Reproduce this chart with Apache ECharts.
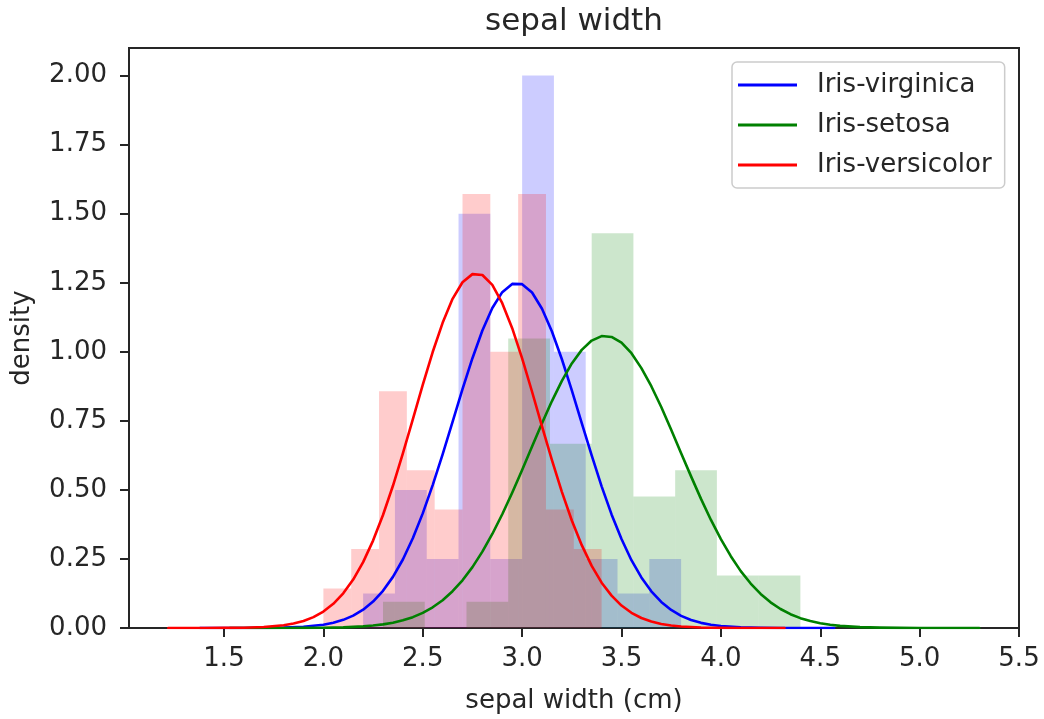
<!DOCTYPE html>
<html>
<head>
<meta charset="utf-8">
<script src="https://cdn.jsdelivr.net/npm/echarts@6/dist/echarts.min.js"></script>
<style>
  html, body { margin: 0; padding: 0; background: #fff; }
  #chart { width: 1044px; height: 719px; }
</style>
</head>
<body>
<div id="chart"></div>
<script>
// ---- data ----
const speciesNames = ['Iris-virginica', 'Iris-setosa', 'Iris-versicolor'];
const speciesColors = ['#0000ff', '#008000', '#ff0000'];
const histFills = ['rgba(0,0,255,0.2)', 'rgba(0,128,0,0.2)', 'rgba(255,0,0,0.2)'];

// histogram bin edges and densities
const virginicaEdges = [2.2, 2.36, 2.52, 2.68, 2.84, 3.0, 3.16, 3.32, 3.48, 3.64, 3.8];
const virginicaDensity = [0.125, 0.5, 0.25, 1.5, 0.25, 2.0, 1.0, 0.25, 0.125, 0.25];
const setosaEdges = [2.3, 2.51, 2.72, 2.93, 3.14, 3.35, 3.56, 3.77, 3.98, 4.19, 4.4];
const setosaDensity = [0.095, 0, 0.095, 1.048, 0.667, 1.429, 0.476, 0.571, 0.190, 0.190];
const versicolorEdges = [2.0, 2.14, 2.28, 2.42, 2.56, 2.7, 2.84, 2.98, 3.12, 3.26, 3.4];
const versicolorDensity = [0.143, 0.286, 0.857, 0.571, 0.429, 1.571, 1.0, 1.571, 0.429, 0.286];

// fitted density curves (x, density)
const virginicaCurve = [
  [1.38, 0], [1.5, 0.00003], [1.6, 0.0001], [1.7, 0.0004], [1.8, 0.0014], [1.9, 0.0044],
  [2.0, 0.0119], [2.05, 0.019], [2.1, 0.0295], [2.15, 0.0447], [2.2, 0.0662], [2.25, 0.0956],
  [2.3, 0.1347], [2.35, 0.1851], [2.4, 0.248], [2.45, 0.325], [2.5, 0.415], [2.55, 0.5174],
  [2.6, 0.629], [2.65, 0.7466], [2.7, 0.865], [2.75, 0.9768], [2.8, 1.077], [2.85, 1.1587],
  [2.9, 1.216], [2.95, 1.2459], [3.0, 1.245], [3.05, 1.2146], [3.1, 1.156], [3.15, 1.0734],
  [3.2, 0.973], [3.25, 0.86], [3.3, 0.742], [3.35, 0.6246], [3.4, 0.513], [3.45, 0.4113],
  [3.5, 0.322], [3.55, 0.2455], [3.6, 0.183], [3.65, 0.1329], [3.7, 0.0942], [3.75, 0.0652],
  [3.8, 0.044], [3.85, 0.029], [3.9, 0.0186], [3.95, 0.0117], [4.0, 0.0071], [4.1, 0.0025],
  [4.2, 0.0008], [4.3, 0.0002], [4.4, 0.00006], [4.57, 0]
];
const setosaCurve = [
  [1.53, 0], [1.7, 0.00003], [1.8, 0.0001], [1.9, 0.0003], [2.0, 0.0009], [2.1, 0.0024],
  [2.2, 0.0058], [2.25, 0.0088], [2.3, 0.0131], [2.35, 0.0192], [2.4, 0.0277], [2.45, 0.0393],
  [2.5, 0.0547], [2.55, 0.0749], [2.6, 0.1007], [2.65, 0.1331], [2.7, 0.1728], [2.75, 0.2205],
  [2.8, 0.2764], [2.85, 0.3404], [2.9, 0.412], [2.95, 0.4899], [3.0, 0.572], [3.05, 0.6572],
  [3.1, 0.741], [3.15, 0.8217], [3.2, 0.895], [3.25, 0.9579], [3.3, 1.007], [3.35, 1.0407],
  [3.4, 1.057], [3.45, 1.0539], [3.5, 1.033], [3.55, 0.9949], [3.6, 0.941], [3.65, 0.8754],
  [3.7, 0.800], [3.75, 0.718], [3.8, 0.633], [3.85, 0.549], [3.9, 0.4675], [3.95, 0.3912],
  [4.0, 0.322], [4.05, 0.2599], [4.1, 0.206], [4.15, 0.1609], [4.2, 0.1234], [4.25, 0.0929],
  [4.3, 0.0687], [4.35, 0.05], [4.4, 0.0357], [4.45, 0.0251], [4.5, 0.0173], [4.55, 0.0117],
  [4.6, 0.0078], [4.7, 0.0033], [4.8, 0.0013], [4.9, 0.0005], [5.0, 0.0002], [5.1, 0.00005],
  [5.3, 0]
];
const versicolorCurve = [
  [1.22, 0], [1.3, 0.00002], [1.4, 0.0001], [1.5, 0.0003], [1.6, 0.0011], [1.7, 0.0034],
  [1.8, 0.0098], [1.85, 0.016], [1.9, 0.0255], [1.95, 0.0395], [2.0, 0.0596], [2.05, 0.0876],
  [2.1, 0.1256], [2.15, 0.1754], [2.2, 0.2386], [2.25, 0.3165], [2.3, 0.409], [2.35, 0.5149],
  [2.4, 0.632], [2.45, 0.7555], [2.5, 0.880], [2.55, 0.9993], [2.6, 1.105], [2.65, 1.1917],
  [2.7, 1.252], [2.75, 1.2813], [2.8, 1.278], [2.85, 1.2421], [2.9, 1.176], [2.95, 1.0856],
  [3.0, 0.976], [3.05, 0.8554], [3.1, 0.730], [3.15, 0.6078], [3.2, 0.493], [3.25, 0.3893],
  [3.3, 0.300], [3.35, 0.2248], [3.4, 0.164], [3.45, 0.1171], [3.5, 0.0812], [3.55, 0.055],
  [3.6, 0.0362], [3.65, 0.0233], [3.7, 0.0146], [3.75, 0.0089], [3.8, 0.0053], [3.9, 0.0017],
  [4.0, 0.0005], [4.1, 0.0001], [4.2, 0.00003], [4.32, 0]
];

// axis ticks
const xTicks = [1.5, 2.0, 2.5, 3.0, 3.5, 4.0, 4.5, 5.0, 5.5];
const yTicks = [0, 0.25, 0.5, 0.75, 1.0, 1.25, 1.5, 1.75, 2.0];

const titleText = 'sepal width';
const xName = 'sepal width (cm)';
const yName = 'density';

// ---- build chart ----
const FONT = 'DejaVu Sans';
const TXT = '#262626';
const AX = '#262626';

function histData(edges, dens) {
  const out = [];
  for (let i = 0; i < dens.length; i++) {
    if (dens[i] > 0) out.push([edges[i], edges[i + 1], dens[i]]);
  }
  return out;
}
function histSeries(name, data, fill) {
  return {
    type: 'custom',
    name: name,
    z: 1,
    silent: true,
    data: data,
    encode: { x: [0, 1], y: 2 },
    renderItem: function (params, api) {
      const p0 = api.coord([api.value(0), api.value(2)]);
      const p1 = api.coord([api.value(1), 0]);
      return {
        type: 'rect',
        shape: { x: p0[0], y: p0[1], width: p1[0] - p0[0], height: p1[1] - p0[1] },
        style: { fill: fill }
      };
    }
  };
}
function lineSeries(name, data, color, z) {
  return {
    type: 'line',
    name: name,
    data: data,
    z: z,
    showSymbol: false,
    smooth: false,
    lineStyle: { color: color, width: 2.6, join: 'round', cap: 'round' },
    itemStyle: { color: color }
  };
}

const chart = echarts.init(document.getElementById('chart'), null, { renderer: 'canvas' });
chart.setOption({
  animation: false,
  backgroundColor: '#ffffff',
  textStyle: { fontFamily: FONT },
  graphic: [{
    type: 'text',
    x: 574, y: 22,
    style: {
      text: titleText, font: '31px "DejaVu Sans"', fill: TXT,
      textAlign: 'center', textVerticalAlign: 'middle'
    }
  }],
  grid: {
    left: 129, right: 25, top: 48, bottom: 90,
    show: true, borderColor: AX, borderWidth: 2, backgroundColor: 'transparent'
  },
  legend: {
    data: speciesNames,
    orient: 'vertical',
    left: 732, top: 62,
    icon: 'rect',
    itemWidth: 59, itemHeight: 3,
    itemGap: 14,
    padding: [10, 13, 10, 6],
    backgroundColor: 'rgba(255,255,255,0.8)',
    borderColor: '#cccccc', borderWidth: 1.5, borderRadius: 5,
    textStyle: { fontSize: 26, fontFamily: FONT, color: TXT, lineHeight: 26, padding: [0, 0, 0, 15] }
  },
  xAxis: {
    type: 'value',
    min: 1.022, max: 5.5,
    name: xName, nameLocation: 'middle', nameGap: 60,
    nameTextStyle: { fontSize: 26, fontFamily: FONT, color: TXT },
    splitLine: { show: false },
    axisLine: { show: false },
    axisTick: { show: true, length: 9, lineStyle: { color: AX, width: 2 }, customValues: xTicks },
    axisLabel: {
      fontSize: 26, fontFamily: FONT, color: TXT, margin: 18,
      customValues: xTicks,
      formatter: v => v.toFixed(1)
    }
  },
  yAxis: {
    type: 'value',
    min: 0, max: 2.1,
    name: yName, nameLocation: 'middle', nameGap: 94, nameRotate: 90,
    nameTextStyle: { fontSize: 26, fontFamily: FONT, color: TXT },
    splitLine: { show: false },
    axisLine: { show: false },
    axisTick: { show: true, length: 9, lineStyle: { color: AX, width: 2 }, customValues: yTicks },
    axisLabel: {
      fontSize: 26, fontFamily: FONT, color: TXT, margin: 22,
      customValues: yTicks,
      formatter: v => v.toFixed(2)
    }
  },
  series: [
    histSeries('virginica-hist', histData(virginicaEdges, virginicaDensity), histFills[0]),
    histSeries('setosa-hist', histData(setosaEdges, setosaDensity), histFills[1]),
    histSeries('versicolor-hist', histData(versicolorEdges, versicolorDensity), histFills[2]),
    lineSeries(speciesNames[0], virginicaCurve, speciesColors[0], 3),
    lineSeries(speciesNames[1], setosaCurve, speciesColors[1], 4),
    lineSeries(speciesNames[2], versicolorCurve, speciesColors[2], 5)
  ]
});
</script>
</body>
</html>
